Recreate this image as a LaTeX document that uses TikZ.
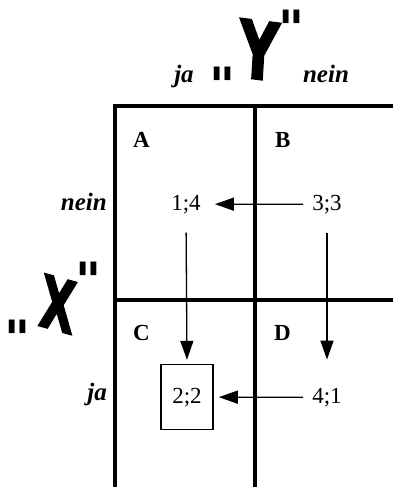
\documentclass[tikz,border=0pt]{standalone}
\usepackage{fontspec}
\setmainfont{Liberation Serif}
\newfontfamily\heavysans{DejaVu Sans}[BoldFeatures={FakeBold=2.5}]
\usetikzlibrary{arrows.meta}

\begin{document}
\begin{tikzpicture}[x=1pt,y=-1pt,
        grid/.style={line width=4pt},
        arr/.style={line width=1.3pt,-{Triangle[length=19pt,width=13pt]}},
        val/.style={font=\fontsize{23}{23}\selectfont,inner sep=0pt,anchor=base},
        lbl/.style={font=\fontsize{25}{25}\selectfont\bfseries\itshape,inner sep=0pt},
        cell/.style={font=\fontsize{23}{23}\selectfont\bfseries,inner sep=0pt,anchor=base west},
        bigletter/.style={font=\heavysans\bfseries\fontsize{76}{76}\selectfont,inner sep=0pt,anchor=base},
        qmark/.style={font=\heavysans\bfseries\itshape\fontsize{50}{50}\selectfont,inner sep=0pt,anchor=north}]
                \useasboundingbox (0,0) rectangle (393,487);
                \draw[grid] (113,106)--(393,106);
                \draw[grid] (115,104)--(115,487);
                \draw[grid] (255,104)--(255,487);
                \draw[grid] (115,300)--(393,300);
                \node[bigletter,xscale=0.72,yscale=1.05,rotate=-5] (ylet) at (257,79) {Y};
                \node[qmark] (yopen) at (223,67) {"};
                \node[qmark] (yclose) at (292,10) {"};
                \node[bigletter,xscale=0.6,yscale=0.95,rotate=-10] (xlet) at (55,330) {X};
                \node[qmark] (xopen) at (18,320) {"};
                \node[qmark] (xclose) at (89,262) {"};
                \node[lbl,anchor=base] (cja) at (184,82) {ja};
                \node[lbl,anchor=base] (cnein) at (326,82) {nein};
                \node[lbl,anchor=base east] (rnein) at (107,210) {nein};
                \node[lbl,anchor=base east] (rja) at (107,400) {ja};
                \node[cell] (la) at (133,147) {A};
                \node[cell] (lb) at (275,147) {B};
                \node[cell] (lc) at (133,340) {C};
                \node[cell] (ld) at (274,340) {D};
                \node[val] (v14) at (186,210) {1;4};
                \node[val] (v33) at (327,210) {3;3};
                \node[val,draw,line width=1.6pt,minimum width=52pt,minimum height=65pt] (v22) at (187,403) {2;2};
                \node[val] (v41) at (327,403) {4;1};
                \draw[arr,shorten <=9pt,shorten >=14pt] (v33.west) -- (v14.east);
                \draw[arr,shorten <=9pt,shorten >=5pt] (v41.west) -- (v22.east);
                \draw[arr,shorten <=19pt,shorten >=4pt] (v14.south) -- (v22.north);
                \draw[arr,shorten <=19pt,shorten >=28pt] (v33.south) -- (v41.north);
            \end{tikzpicture}
\end{document}
